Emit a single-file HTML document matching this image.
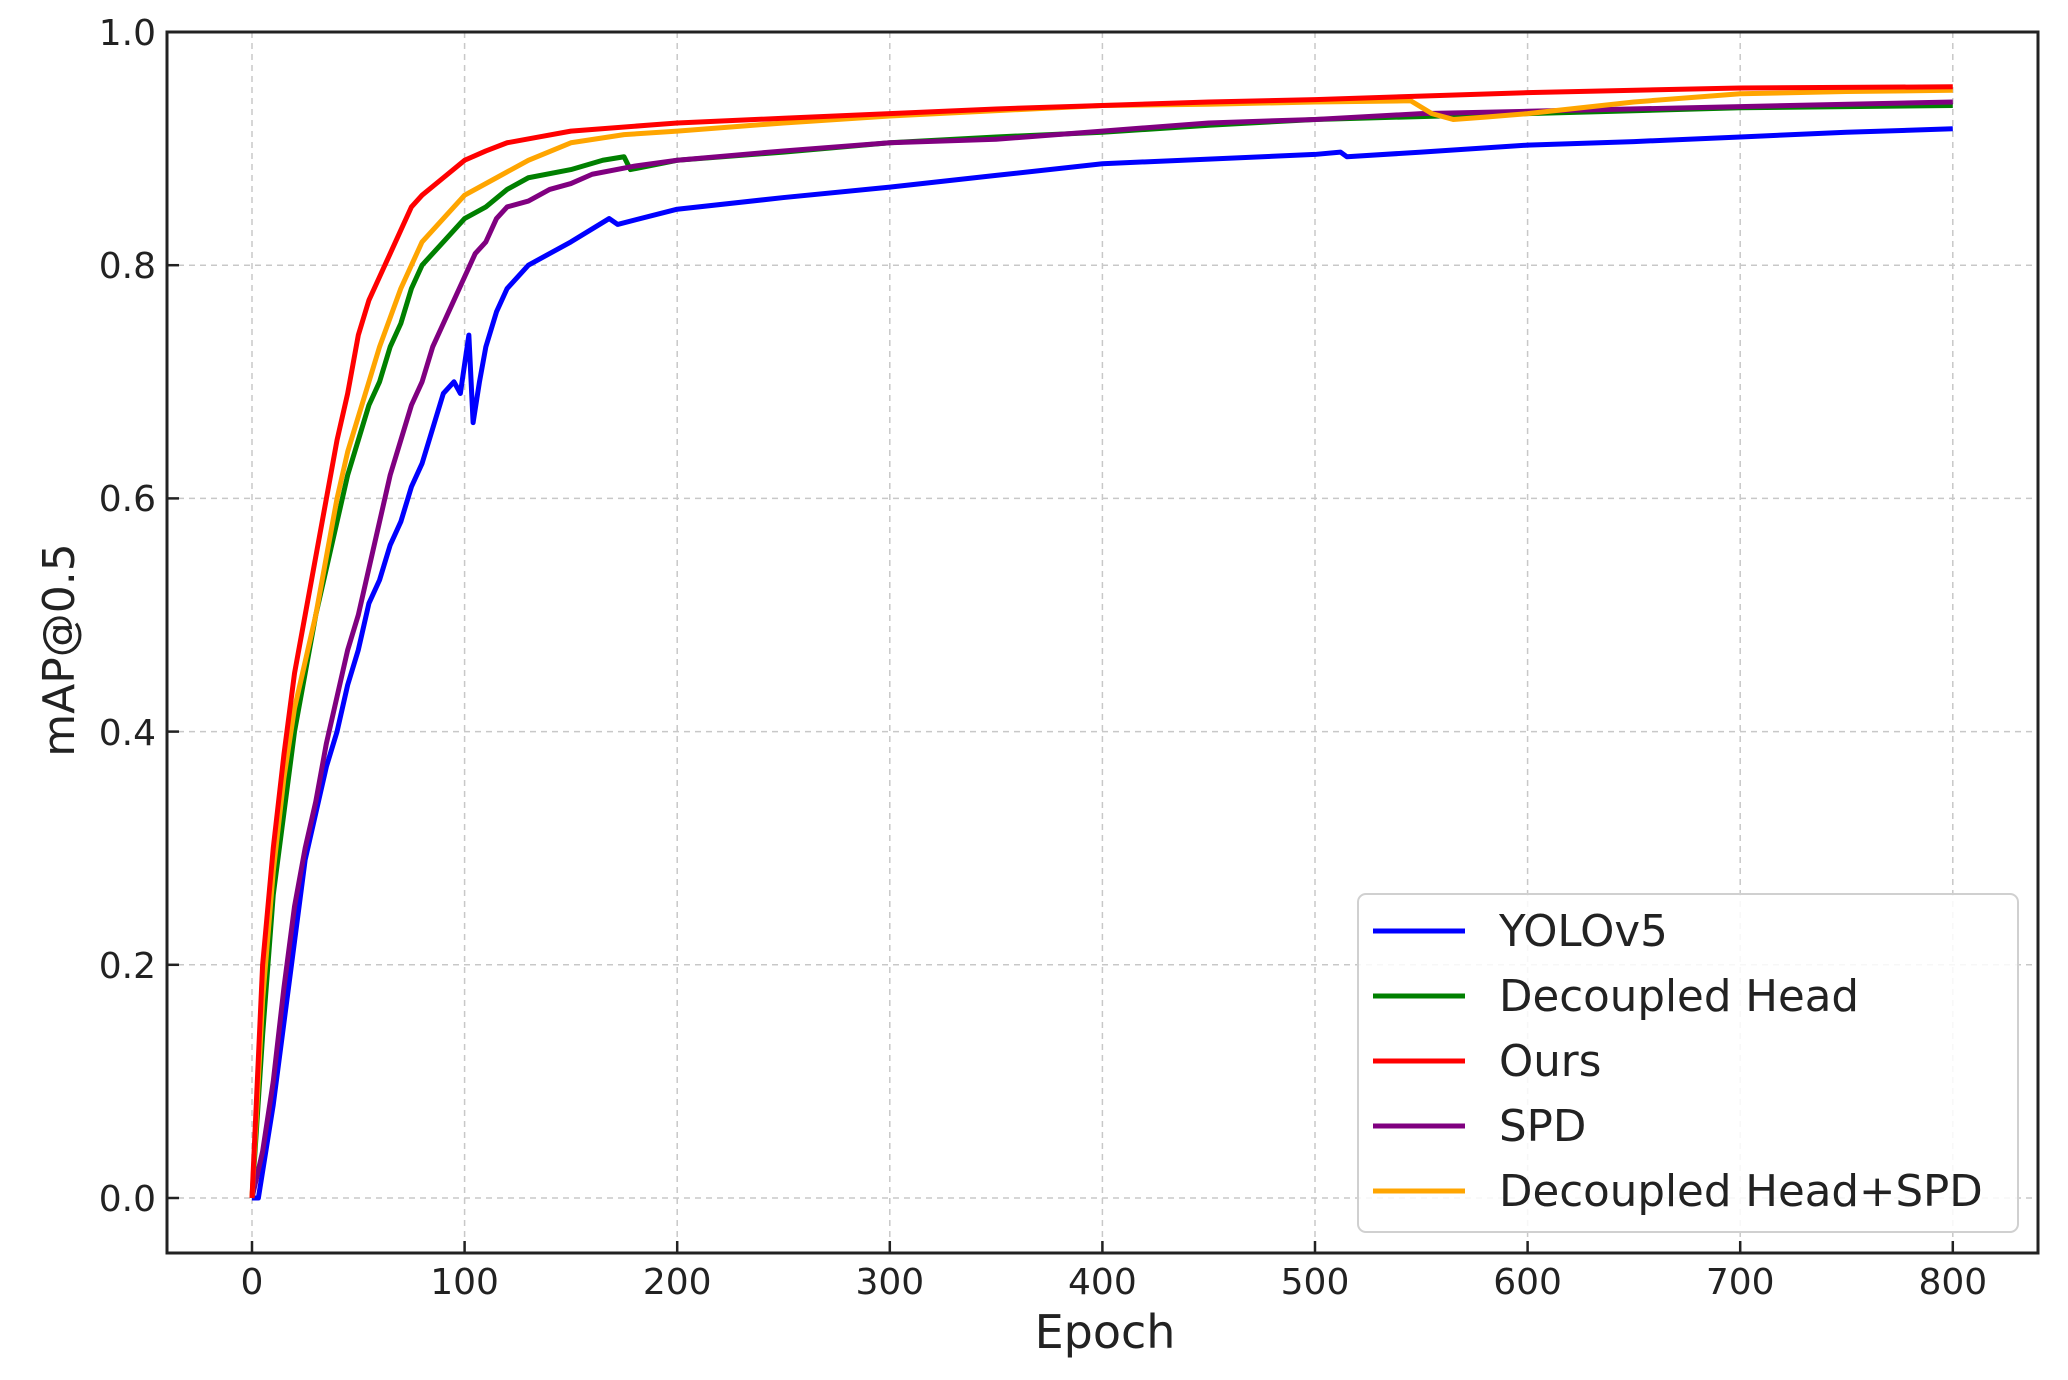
<!DOCTYPE html>
<html><head><meta charset="utf-8"><style>
html,body{margin:0;padding:0;background:#fff;}
svg{display:block;font-family:"DejaVu Sans","Liberation Sans",sans-serif;}
</style></head><body>
<svg width="2068" height="1380" viewBox="0 0 2068 1380" xmlns="http://www.w3.org/2000/svg">
<rect width="2068" height="1380" fill="#fff"/>
<g stroke="#c8c8c8" stroke-width="1.5" stroke-dasharray="6,5">
<line x1="252" y1="32" x2="252" y2="1253"/><line x1="464.6" y1="32" x2="464.6" y2="1253"/>
<line x1="677.2" y1="32" x2="677.2" y2="1253"/><line x1="889.8" y1="32" x2="889.8" y2="1253"/>
<line x1="1102.4" y1="32" x2="1102.4" y2="1253"/><line x1="1315" y1="32" x2="1315" y2="1253"/>
<line x1="1527.6" y1="32" x2="1527.6" y2="1253"/><line x1="1740.2" y1="32" x2="1740.2" y2="1253"/>
<line x1="1952.8" y1="32" x2="1952.8" y2="1253"/>
<line x1="167" y1="1198" x2="2038" y2="1198"/><line x1="167" y1="964.8" x2="2038" y2="964.8"/>
<line x1="167" y1="731.6" x2="2038" y2="731.6"/><line x1="167" y1="498.4" x2="2038" y2="498.4"/>
<line x1="167" y1="265.2" x2="2038" y2="265.2"/>
</g>
<g transform="matrix(2.126 0 0 -1166 252 1198)" fill="none" stroke-width="5" stroke-linejoin="round">
<polyline vector-effect="non-scaling-stroke" stroke="#0000ff" points="0,0 3,0 10,0.08 20,0.22 25,0.29 30,0.33 35,0.37 40,0.4 45,0.44 50,0.47 55,0.51 60,0.53 65,0.56 70,0.58 75,0.61 80,0.63 85,0.66 90,0.69 95,0.70 98,0.69 102,0.74 104,0.665 107,0.70 110,0.73 115,0.76 120,0.78 130,0.80 150,0.82 168,0.84 172,0.835 200,0.848 250,0.858 300,0.867 350,0.877 400,0.887 450,0.891 500,0.895 512,0.897 515,0.893 550,0.897 600,0.903 650,0.906 700,0.91 750,0.914 800,0.917"/>
<polyline vector-effect="non-scaling-stroke" stroke="#008000" points="0,0 5,0.14 10,0.26 15,0.33 20,0.4 25,0.45 30,0.5 35,0.54 40,0.58 45,0.62 50,0.65 55,0.68 60,0.7 65,0.73 70,0.75 75,0.78 80,0.8 90,0.82 100,0.84 110,0.85 120,0.865 130,0.875 150,0.882 165,0.89 175,0.893 178,0.882 200,0.89 250,0.897 300,0.905 350,0.91 400,0.914 450,0.92 500,0.925 600,0.93 700,0.935 800,0.937"/>
<polyline vector-effect="non-scaling-stroke" stroke="#800080" points="0,0 5,0.04 10,0.1 15,0.18 20,0.25 25,0.3 30,0.34 35,0.39 40,0.43 45,0.47 50,0.5 55,0.54 60,0.58 65,0.62 70,0.65 75,0.68 80,0.7 85,0.73 90,0.75 95,0.77 100,0.79 105,0.81 110,0.82 115,0.84 120,0.85 130,0.855 140,0.865 150,0.87 160,0.878 180,0.885 200,0.89 250,0.898 300,0.905 350,0.908 400,0.915 450,0.922 500,0.925 550,0.93 600,0.932 700,0.936 800,0.94"/>
<polyline vector-effect="non-scaling-stroke" stroke="#ffa500" points="0,0 5,0.17 10,0.28 15,0.36 20,0.42 25,0.46 30,0.5 35,0.55 40,0.6 45,0.64 50,0.67 55,0.7 60,0.73 65,0.755 70,0.78 75,0.8 80,0.82 90,0.84 100,0.86 115,0.875 130,0.89 150,0.905 175,0.912 200,0.915 250,0.922 300,0.928 400,0.937 450,0.938 500,0.94 545,0.941 555,0.93 565,0.925 580,0.927 600,0.93 650,0.94 700,0.947 750,0.949 800,0.95"/>
<polyline vector-effect="non-scaling-stroke" stroke="#ff0000" points="0,0 5,0.2 10,0.3 15,0.38 20,0.45 25,0.5 30,0.55 35,0.6 40,0.65 45,0.69 50,0.74 55,0.77 60,0.79 65,0.81 70,0.83 75,0.85 80,0.86 90,0.875 100,0.89 110,0.898 120,0.905 135,0.91 150,0.915 200,0.922 250,0.926 300,0.93 350,0.934 400,0.937 450,0.94 500,0.942 600,0.948 700,0.952 800,0.953"/>
</g>
<rect x="167" y="32" width="1871" height="1221" fill="none" stroke="#222" stroke-width="3"/>
<g stroke="#222" stroke-width="2.5">
<line x1="252" y1="1253" x2="252" y2="1241"/><line x1="464.6" y1="1253" x2="464.6" y2="1241"/>
<line x1="677.2" y1="1253" x2="677.2" y2="1241"/><line x1="889.8" y1="1253" x2="889.8" y2="1241"/>
<line x1="1102.4" y1="1253" x2="1102.4" y2="1241"/><line x1="1315" y1="1253" x2="1315" y2="1241"/>
<line x1="1527.6" y1="1253" x2="1527.6" y2="1241"/><line x1="1740.2" y1="1253" x2="1740.2" y2="1241"/>
<line x1="1952.8" y1="1253" x2="1952.8" y2="1241"/>
<line x1="167" y1="1198" x2="179" y2="1198"/><line x1="167" y1="964.8" x2="179" y2="964.8"/>
<line x1="167" y1="731.6" x2="179" y2="731.6"/><line x1="167" y1="498.4" x2="179" y2="498.4"/>
<line x1="167" y1="265.2" x2="179" y2="265.2"/><line x1="167" y1="32" x2="179" y2="32"/>
</g>
<g font-size="36" fill="#222" text-anchor="end">
<text x="156" y="1211">0.0</text><text x="156" y="978">0.2</text><text x="156" y="745">0.4</text>
<text x="156" y="511">0.6</text><text x="156" y="278">0.8</text><text x="156" y="45">1.0</text>
</g>
<g font-size="36" fill="#222" text-anchor="middle">
<text x="252" y="1294">0</text><text x="464.6" y="1294">100</text><text x="677.2" y="1294">200</text>
<text x="889.8" y="1294">300</text><text x="1102.4" y="1294">400</text><text x="1315" y="1294">500</text>
<text x="1527.6" y="1294">600</text><text x="1740.2" y="1294">700</text><text x="1952.8" y="1294">800</text>
</g>
<text x="1105" y="1348" font-size="46" fill="#222" text-anchor="middle">Epoch</text>
<text transform="translate(74,650) rotate(-90)" font-size="44" fill="#222" text-anchor="middle">mAP@0.5</text>
<rect x="1358" y="894" width="660" height="338" rx="8" fill="#fff" fill-opacity="0.85" stroke="#d0d0d0" stroke-width="2"/>
<g stroke-width="5">
<line x1="1373" y1="931" x2="1465" y2="931" stroke="#0000ff"/>
<line x1="1373" y1="996" x2="1465" y2="996" stroke="#008000"/>
<line x1="1373" y1="1061" x2="1465" y2="1061" stroke="#ff0000"/>
<line x1="1373" y1="1126" x2="1465" y2="1126" stroke="#800080"/>
<line x1="1373" y1="1191" x2="1465" y2="1191" stroke="#ffa500"/>
</g>
<g font-size="43.5" fill="#222">
<text x="1499" y="946">YOLOv5</text>
<text x="1499" y="1011">Decoupled Head</text>
<text x="1499" y="1076">Ours</text>
<text x="1499" y="1141">SPD</text>
<text x="1499" y="1206">Decoupled Head+SPD</text>
</g>
</svg>
</body></html>
